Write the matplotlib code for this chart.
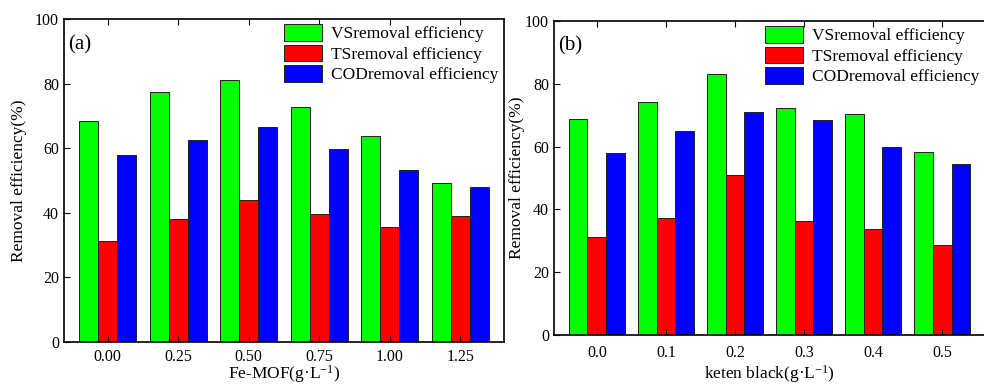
import numpy as np
import matplotlib
matplotlib.use("Agg")
import matplotlib.pyplot as plt

plt.rcParams['font.family'] = ['Liberation Serif', 'DejaVu Serif']
plt.rcParams['mathtext.default'] = 'regular'

# panel (a): Fe-MOF dosage
fe_labels = ['0.00', '0.25', '0.50', '0.75', '1.00', '1.25']
fe_vs = [68.4, 77.3, 81.0, 72.7, 63.7, 49.1]
fe_ts = [31.3, 38.0, 44.0, 39.7, 35.5, 38.9]
fe_cod = [58.0, 62.6, 66.7, 59.8, 53.1, 48.1]

# panel (b): keten black dosage
kb_labels = ['0.0', '0.1', '0.2', '0.3', '0.4', '0.5']
kb_vs = [68.7, 74.1, 83.0, 72.2, 70.3, 58.4]
kb_ts = [31.3, 37.3, 51.0, 36.4, 33.8, 28.8]
kb_cod = [58.0, 64.9, 71.0, 68.5, 59.9, 54.6]

series_names = ['VSremoval efficiency', 'TSremoval efficiency', 'CODremoval efficiency']
colors = ['#00ff00', '#ff0000', '#0000ff']


def draw_panel(ax, labels, vs, ts, cod, xlabel, tag, xpad, xlpad, ylpad):
    x = np.arange(len(labels))
    w = 0.27
    for k, (vals, c, nm) in enumerate(zip([vs, ts, cod], colors, series_names)):
        ax.bar(x + (k - 1) * w, vals, w, color=c, edgecolor='#202020',
               linewidth=0.7, label=nm)
    ax.set_xlim(-0.62, len(labels) - 0.38)
    ax.set_ylim(0, 100)
    ax.set_yticks([0, 20, 40, 60, 80, 100])
    ax.set_xticks(x)
    ax.set_xticklabels(labels)
    ax.tick_params(axis='both', direction='in', top=True, right=False,
                   labelsize=11.5, length=4, width=0.8)
    ax.tick_params(axis='x', pad=xpad)
    for s in ax.spines.values():
        s.set_linewidth(1.2)
    ax.set_ylabel('Removal efficiency(%)', fontsize=12.5, labelpad=ylpad)
    ax.set_xlabel(xlabel, fontsize=12.5, labelpad=xlpad)
    ax.text(0.01, 0.95, tag, transform=ax.transAxes, fontsize=15,
            ha='left', va='top')
    ax.legend(loc='upper right', frameon=False, fontsize=12.5,
              handlelength=2.2, handleheight=1.1, handletextpad=0.55,
              labelspacing=0.12, borderaxespad=0.1, borderpad=0.2)


fig = plt.figure(figsize=(9.84, 3.84), dpi=100)
ax1 = fig.add_axes([64 / 984, 42 / 384, 440 / 984, 323 / 384])
ax2 = fig.add_axes([554 / 984, 49 / 384, 431 / 984, 314 / 384])

draw_panel(ax1, fe_labels, fe_vs, fe_ts, fe_cod, 'Fe-MOF(g·L$^{-1}$)', '(a)',
           xpad=5, xlpad=-1, ylpad=6)
draw_panel(ax2, kb_labels, kb_vs, kb_ts, kb_cod, 'keten black(g·L$^{-1}$)', '(b)',
           xpad=7, xlpad=2, ylpad=0)

fig.savefig('out.png', dpi=100)
